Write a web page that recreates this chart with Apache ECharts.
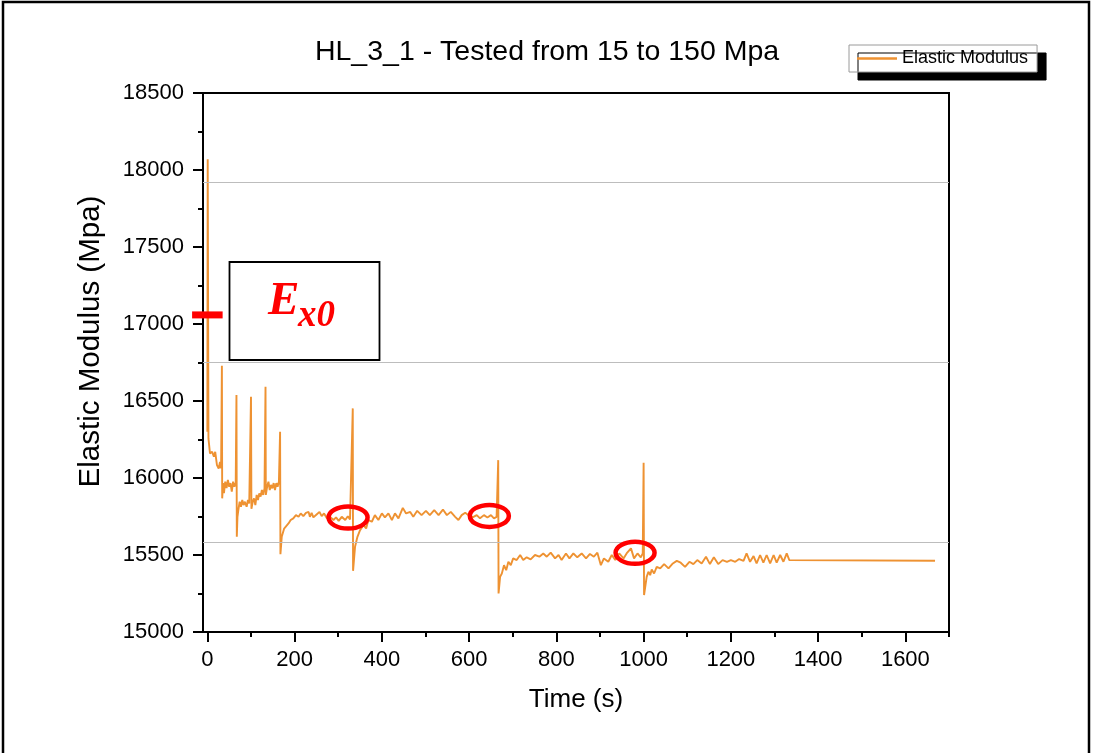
<!DOCTYPE html>
<html>
<head>
<meta charset="utf-8">
<script src="https://cdn.jsdelivr.net/npm/echarts@6/dist/echarts.min.js"></script>
<style>html,body{margin:0;padding:0;background:#fff}#main{width:1094px;height:753px}</style>
</head>
<body>
<div id="main"></div>
<script>
// ---- data (time in s, elastic modulus in MPa) ----
const phaseA = [[0,16300],[0.8,18070],[2.5,16257],[6,16160],[11,16170],[15,16138],[18,16170],[22,16084],[26,16062],[29,16105],[31.5,16062],[33.3,16729],[34,15868],
[36,15967],[38,15902],[41,15976],[44,15935],[47,15987],[50,15943],[53,15967],[56,15911],[59,15976],[62,15943],[65,15967],[66.7,16539],[67.5,15618],
[69,15748],[71,15791],[74,15846],[77,15813],[80,15857],[83,15824],[86,15846],[90,15813],[93,15857],[96,15835],[99,15846],[100,16528],[101,15800],
[104,15846],[107,15868],[110,15824],[113,15890],[116,15857],[119,15900],[122,15879],[125,15922],[128,15890],[131,15933],[133.3,16593],[134,15890],
[137,15943],[140,15976],[143,15922],[146,15955],[149,15933],[152,15967],[155,15922],[158,15967],[161,15943],[164,15976],[166.7,16300]];
const phaseB = [[167.5,15505],[170.5,15618],[176,15672],[180,15661],[186,15705],[191,15727],[197,15738],[203,15759],[209,15748],[214,15770],[220,15752],[226,15774],[232,15780],[235,15748],[239,15774],[243,15744],[251,15765],[257,15780],[262,15752],[267.5,15770],[274,15738],[281,15748],[289,15727],[295,15744],[301,15722],[308,15748],[316,15727],[322,15752],[327,15731],[331,15738],[333.3,16452]];
const phaseC = [[334,15397],[338.5,15553],[344,15618],[350,15661],[357.6,15694],[364,15672],[369,15727],[377,15716],[384,15759],[392,15727],[400,15770],[407,15744],[415,15770],[423,15727],[430,15770],[438,15738],[448,15806],[455.5,15770],[465,15780],[472,15748],[481,15787],[491,15759],[501,15787],[510,15759],[520,15791],[530,15759],[540,15795],[549,15759],[558,15780],[568,15748],[575.5,15727],[583,15759],[591,15774],[598,15759],[608,15744],[617.5,15759],[625,15738],[634,15759],[642,15744],[650,15759],[657,15738],[663,15748],[666.7,16116]];
const phaseD = [[667.5,15250],[671,15358],[675,15380],[680,15434],[685,15401],[690,15456],[695.5,15434],[701,15478],[709,15467],[717,15500],[724,15467],[732,15485],[741,15472],[751,15500],[761,15489],[770,15510],[778,15489],[787,15515],[797,15478],[805,15500],[812,15467],[822,15510],[830,15478],[839,15510],[848,15485],[858,15510],[868,15478],[877,15507],[886,15489],[894,15515],[902,15434],[909,15478],[919,15456],[927,15500],[935,15467],[944,15510],[954,15478],[961,15510],[971,15543],[978,15478],[986,15510],[993.5,15485],[998,15510],[1000,16099]];
const phaseE = [[1001,15240],[1007,15358],[1011,15391],[1015,15369],[1018.6,15406],[1024,15380],[1030,15423],[1038,15413],[1047,15441],[1057,15413],[1067,15445],[1076,15462],[1085,15450],[1095,15423],[1105,15456],[1114,15441],[1123,15467],[1133,15445],[1143,15489],[1152,15441],[1161,15485],[1171,15441],[1181,15467],[1191,15456],[1200,15467],[1210,15456],[1219,15474],[1229,15462],[1236,15510],[1244,15456],[1252,15493],[1259,15445],[1267,15500],[1274.5,15450],[1282,15500],[1290,15445],[1298,15500],[1305,15450],[1313,15500],[1320.5,15456],[1328,15510],[1334,15467],[1668,15463]];

const xTicks = [0, 200, 400, 600, 800, 1000, 1200, 1400, 1600];
const xMinorTicks = [100, 300, 500, 700, 900, 1100, 1300, 1500, 1700];
const referenceLines = [17920, 16753, 15586];
const highlightPoints = [[322.5, 15743], [646.4, 15754], [980.4, 15514]];
const ex0Value = 17059;

const seriesName = 'Elastic Modulus';
const titleText = 'HL_3_1 - Tested from 15 to 150 Mpa';

const data = [].concat(phaseA, phaseB, phaseC, phaseD, phaseE);
const FONT = 'Liberation Sans, Arial, sans-serif';
const LINE_COLOR = '#EE9232';

const chart = echarts.init(document.getElementById('main'));
chart.setOption({
  animation: false,
  backgroundColor: '#fff',
  title: {
    text: titleText, left: 'center', top: 38, padding: 0,
    textStyle: { fontFamily: FONT, fontSize: 28.5, fontWeight: 'normal', color: '#000' }
  },
  legend: {
    left: 849, top: 45, padding: [4.5, 9, 4.5, 8],
    itemWidth: 40, itemHeight: 2.5, icon: 'rect',
    backgroundColor: '#fff', borderColor: '#9a9a9a', borderWidth: 1,
    shadowColor: '#000', shadowOffsetX: 9, shadowOffsetY: 8, shadowBlur: 0,
    textStyle: { fontFamily: FONT, fontSize: 18, color: '#000', lineHeight: 16 },
    itemStyle: { color: LINE_COLOR },
    data: [{ name: seriesName, icon: 'rect' }]
  },
  grid: { left: 203, top: 93, width: 746, height: 539, show: true, borderColor: '#000', borderWidth: 2, backgroundColor: 'transparent' },
  xAxis: [{
    type: 'value', min: -10, max: 1700,
    name: 'Time (s)', nameLocation: 'middle', nameGap: 55,
    nameTextStyle: { fontFamily: FONT, fontSize: 26, color: '#000' },
    axisLine: { show: true, onZero: false, lineStyle: { color: '#000', width: 2 } },
    axisTick: { show: true, inside: false, length: 10, customValues: xTicks, lineStyle: { color: '#000', width: 2 } },
    axisLabel: { customValues: xTicks, margin: 17, fontFamily: FONT, fontSize: 22, color: '#000', formatter: v => String(v) },
    splitLine: { show: false }
  }, {
    type: 'value', min: -10, max: 1700, position: 'bottom',
    axisLine: { show: false, onZero: false },
    axisTick: { show: true, inside: false, length: 5, customValues: xMinorTicks, lineStyle: { color: '#000', width: 2 } },
    axisLabel: { show: false },
    splitLine: { show: false }
  }],
  yAxis: {
    type: 'value', min: 15000, max: 18500, interval: 500,
    name: 'Elastic Modulus (Mpa)', nameLocation: 'middle', nameGap: 97,
    nameTextStyle: { fontFamily: FONT, fontSize: 29.5, color: '#000', padding: [0, 0, 0, 42] },
    axisLine: { show: true, onZero: false, lineStyle: { color: '#000', width: 2 } },
    axisTick: { show: true, inside: false, length: 10, lineStyle: { color: '#000', width: 2 } },
    minorTick: { show: true, splitNumber: 2, length: 5, lineStyle: { color: '#000', width: 2 } },
    axisLabel: { margin: 19, fontFamily: FONT, fontSize: 22, color: '#000', formatter: v => String(v) },
    splitLine: { show: false }
  },
  series: [{
    name: seriesName, type: 'line', data: data, symbol: 'none', showSymbol: false,
    lineStyle: { color: LINE_COLOR, width: 1.9 }, itemStyle: { color: LINE_COLOR },
    markLine: {
      silent: true, symbol: ['none', 'none'], label: { show: false },
      lineStyle: { color: '#bdbdbd', width: 1, type: 'solid' },
      data: referenceLines.map(v => ({ yAxis: v }))
    },
    z: 3
  }]
});

const px = (t, e) => chart.convertToPixel({ xAxisIndex: 0, yAxisIndex: 0 }, [t, e]);
const dashL = px(-35, ex0Value), dashR = px(35, ex0Value);
const graphics = [
  { type: 'rect', shape: { x: 3, y: 2, width: 1086, height: 800 }, style: { fill: 'none', stroke: '#000', lineWidth: 2.5 }, silent: true, z: 10 },
  { type: 'rect', shape: { x: 229.5, y: 262, width: 150, height: 98 }, style: { fill: '#fff', stroke: '#000', lineWidth: 1.8 }, z: 20 },
  { type: 'text', x: 268, y: 301.5, style: { text: 'E', fill: '#ff0000', font: 'italic bold 47px "Liberation Serif", serif', align: 'left', verticalAlign: 'middle' }, z: 21 },
  { type: 'text', x: 298, y: 316.5, style: { text: 'x0', fill: '#ff0000', font: 'italic bold 37px "Liberation Serif", serif', align: 'left', verticalAlign: 'middle' }, z: 21 },
  { type: 'line', shape: { x1: dashL[0], y1: dashL[1], x2: dashR[0], y2: dashR[1] }, style: { stroke: '#ff0000', lineWidth: 7 }, z: 20 }
];
highlightPoints.forEach(p => {
  const c = px(p[0], p[1]);
  graphics.push({ type: 'ellipse', shape: { cx: c[0], cy: c[1], rx: 19.5, ry: 11 }, style: { fill: 'none', stroke: '#ff0000', lineWidth: 4.5 }, z: 20 });
});
chart.setOption({ graphic: graphics });
</script>
</body>
</html>
